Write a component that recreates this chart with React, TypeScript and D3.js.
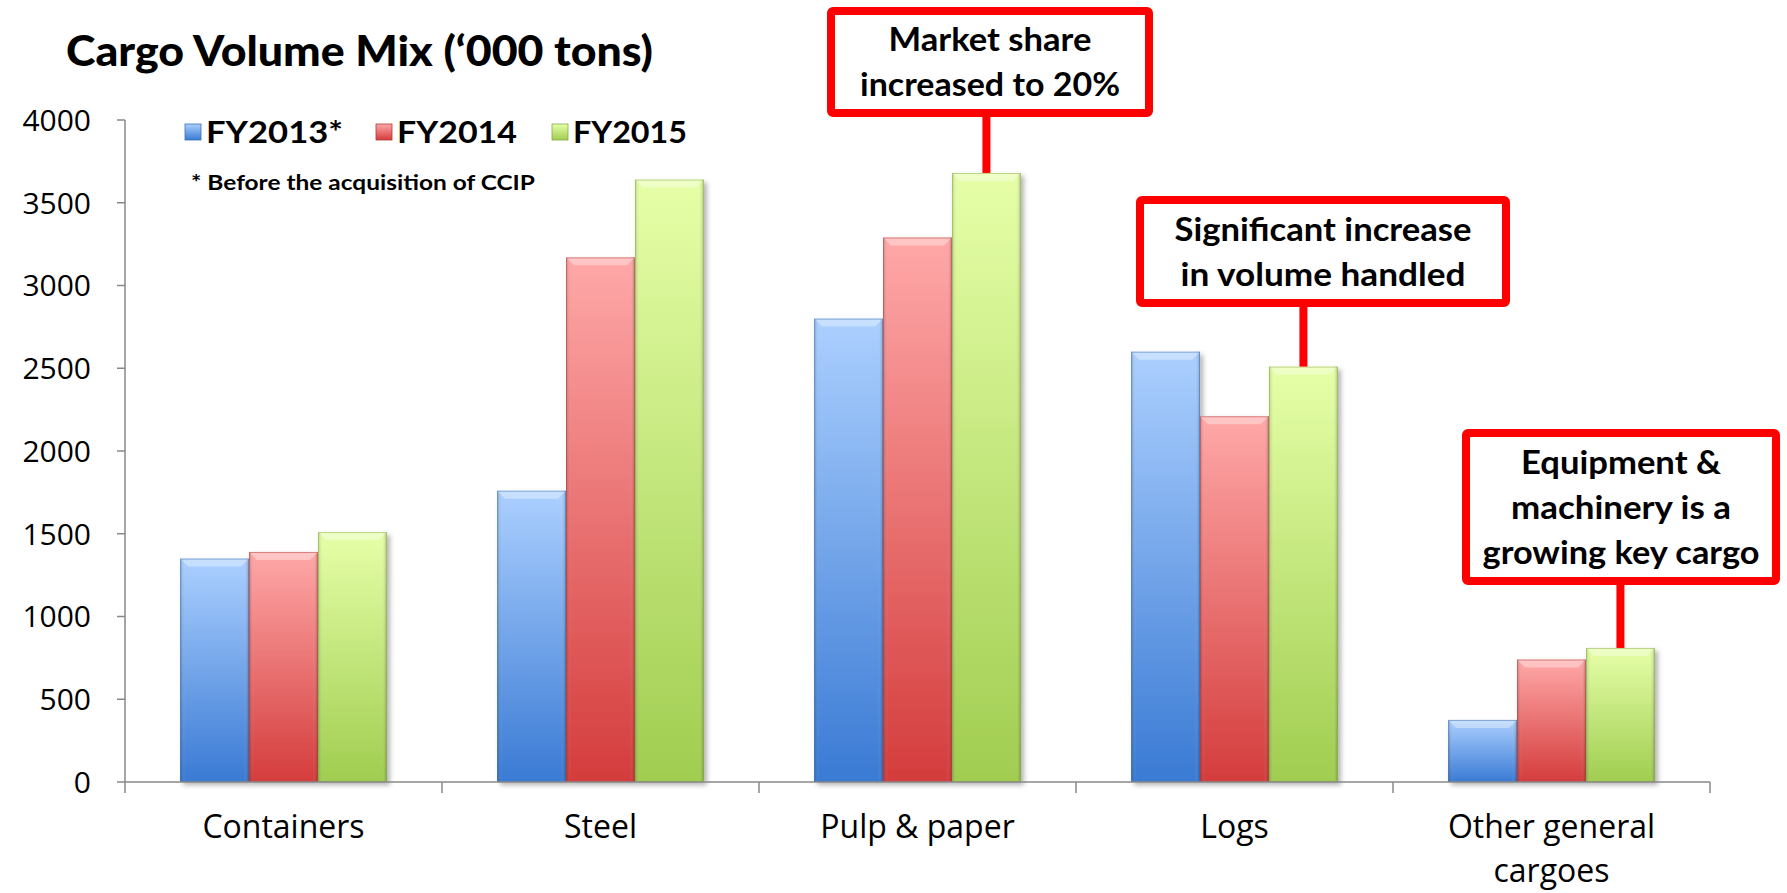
import React from "react";
import * as d3 from "d3";

const categories = ["Containers", "Steel", "Pulp & paper", "Logs", "Other general cargoes"];
const categoryLines = [["Containers"], ["Steel"], ["Pulp & paper"], ["Logs"], ["Other general", "cargoes"]];
const seriesNames = ["FY2013*", "FY2014", "FY2015"];
const fy2013 = [1350, 1760, 2800, 2600, 375];
const fy2014 = [1390, 3170, 3290, 2210, 740];
const fy2015 = [1510, 3640, 3680, 2510, 810];
const yTicks = [0, 500, 1000, 1500, 2000, 2500, 3000, 3500, 4000];
const footnote = "* Before the acquisition of CCIP";
const title = "Cargo Volume Mix (\u2018000 tons)";

const annotationTexts = [
  ["Market share", "increased to 20%"],
  ["Significant increase", "in volume handled"],
  ["Equipment &", "machinery is a", "growing key cargo"],
];
const annotationTargets = [
  { cat: 2, series: 2 },
  { cat: 3, series: 2 },
  { cat: 4, series: 2 },
];

// layout (pixels)
const annotationBoxes = [
  [827, 7, 1153, 117],
  [1136, 196, 1510, 307],
  [1462, 429, 1780, 585],
];
const annotationLineWidths = [
  [203, 260],
  [297, 285],
  [200, 220, 277],
];
const legendX = [185, 376, 552];
const legendWidths = [137, 120, 114];

const W = 1787, H = 893;
const colors = [
  { top: "#acd0ff", bottom: "#3a7ad4", edge: "#3a6fb8" },
  { top: "#ffa8a8", bottom: "#d43c3c", edge: "#b53838" },
  { top: "#e6ffa8", bottom: "#a0cd50", edge: "#86ab44" },
];

export default function App() {
  const values = [fy2013, fy2014, fy2015];
  const x0 = d3.scaleBand<string>().domain(categories).range([125, 1710]).padding(0);
  const x1 = d3.scaleBand<string>().domain(seriesNames).range([0, x0.bandwidth()]).paddingInner(0).paddingOuter(0.8);
  const y = d3.scaleLinear().domain([0, 4000]).range([782, 120]);
  const bw = x1.bandwidth();
  const fontReg = "'Open Sans', sans-serif";
  const fontBold = "Lato, 'Open Sans', sans-serif";

  return (
    <svg width={W} height={H} style={{ position: "absolute", left: 0, top: 0, background: "#fff" }}>
      <defs>
        {colors.map((c, i) => (
          <linearGradient key={i} id={`g${i}`} x1="0" y1="0" x2="0" y2="1">
            <stop offset="0" stopColor={c.top} />
            <stop offset="1" stopColor={c.bottom} />
          </linearGradient>
        ))}
        <linearGradient id="hl" x1="0" y1="0" x2="1" y2="0">
          <stop offset="0" stopColor="#000" stopOpacity="0.18" />
          <stop offset="0.08" stopColor="#fff" stopOpacity="0.0" />
          <stop offset="0.92" stopColor="#fff" stopOpacity="0.0" />
          <stop offset="1" stopColor="#000" stopOpacity="0.22" />
        </linearGradient>
        <filter id="sh" x="-10%" y="-10%" width="130%" height="130%">
          <feDropShadow dx="3" dy="3" stdDeviation="2.5" floodColor="#000" floodOpacity="0.3" />
        </filter>
      </defs>

      <text x={66} y={66} fontFamily={fontBold} fontWeight="900" fontSize={42} textLength={587} lengthAdjust="spacingAndGlyphs" fill="#000">
        {title}
      </text>

      {/* Y axis */}
      <line x1={125} x2={125} y1={y(4000)} y2={y(0)} stroke="#888" strokeWidth={1.5} />
      {yTicks.map((t) => (
        <g key={t}>
          <line x1={117} x2={125} y1={y(t)} y2={y(t)} stroke="#888" strokeWidth={1.5} />
          <text x={91} y={y(t)} dy="0.36em" textAnchor="end" fontFamily={fontReg} fontSize={30} fill="#000">
            {t}
          </text>
        </g>
      ))}

      {/* bars */}
      {categories.map((c, ci) => (
        <g key={c} transform={`translate(${x0(c)},0)`}>
          {seriesNames.map((s, si) => {
            const v = values[si][ci];
            const bx = x1(s)!;
            const by = y(v);
            const bh = y(0) - by;
            return (
              <g key={s}>
                <rect x={bx} y={by} width={bw} height={bh} fill={`url(#g${si})`} filter="url(#sh)" />
                <rect x={bx} y={by} width={bw} height={bh} fill="url(#hl)" />
                <polygon points={`${bx},${by} ${bx + bw},${by} ${bx + bw - 8},${by + 8} ${bx + 8},${by + 8}`} fill="#fff" opacity={0.35} />
                <rect x={bx + 0.5} y={by + 0.5} width={bw - 1} height={bh - 1} fill="none" stroke={colors[si].edge} strokeOpacity={0.5} strokeWidth={1} />
              </g>
            );
          })}
        </g>
      ))}

      {/* X axis */}
      <line x1={125} x2={1710} y1={y(0)} y2={y(0)} stroke="#888" strokeWidth={1.5} />
      {categories.map((c) => (
        <line key={c} x1={x0(c)!} x2={x0(c)!} y1={y(0)} y2={y(0) + 11} stroke="#888" strokeWidth={1.5} />
      ))}
      <line x1={1710} x2={1710} y1={y(0)} y2={y(0) + 11} stroke="#888" strokeWidth={1.5} />
      {categories.map((c, ci) => (
        <text key={c} x={x0(c)! + x0.bandwidth() / 2} y={838} textAnchor="middle" fontFamily={fontReg} fontSize={32} fill="#000">
          {categoryLines[ci].map((l, li) => (
            <tspan key={li} x={x0(c)! + x0.bandwidth() / 2} dy={li === 0 ? 0 : 44}>
              {l}
            </tspan>
          ))}
        </text>
      ))}

      {/* legend */}
      {seriesNames.map((s, si) => {
        const lx = legendX[si];
        return (
          <g key={s}>
            <rect x={lx} y={124} width={16} height={16} fill={`url(#g${si})`} stroke={colors[si].edge} strokeWidth={0.8} />
            <text x={lx + 21} y={132} dy="0.36em" fontFamily={fontBold} fontWeight="bold" fontSize={30} textLength={legendWidths[si]} lengthAdjust="spacingAndGlyphs" fill="#000">
              {s}
            </text>
          </g>
        );
      })}
      <text x={191} y={182} dy="0.36em" fontFamily={fontBold} fontWeight="bold" fontSize={21} textLength={344} lengthAdjust="spacingAndGlyphs" fill="#000">
        {footnote}
      </text>

      {/* annotations */}
      {annotationTexts.map((lines, ai) => {
        const [l, t, r, b] = annotationBoxes[ai];
        const tg = annotationTargets[ai];
        const cx = x0(categories[tg.cat])! + x1(seriesNames[tg.series])! + bw / 2;
        const ty = y(values[tg.series][tg.cat]);
        const midx = (l + r) / 2;
        const n = lines.length;
        const lh = 45;
        const startY = (t + b) / 2 - ((n - 1) * lh) / 2;
        return (
          <g key={ai}>
            <line x1={cx} x2={cx} y1={b} y2={ty} stroke="#ff0000" strokeWidth={8} />
            <rect x={l + 4} y={t + 4} width={r - l - 8} height={b - t - 8} fill="#fff" stroke="#ff0000" strokeWidth={8} rx={2} />
            {lines.map((ln, li) => (
              <text key={li} x={midx} y={startY + li * lh} dy="0.36em" textAnchor="middle" fontFamily={fontBold} fontWeight="bold" fontSize={33} textLength={annotationLineWidths[ai][li]} lengthAdjust="spacingAndGlyphs" fill="#000">
                {ln}
              </text>
            ))}
          </g>
        );
      })}
    </svg>
  );
}
